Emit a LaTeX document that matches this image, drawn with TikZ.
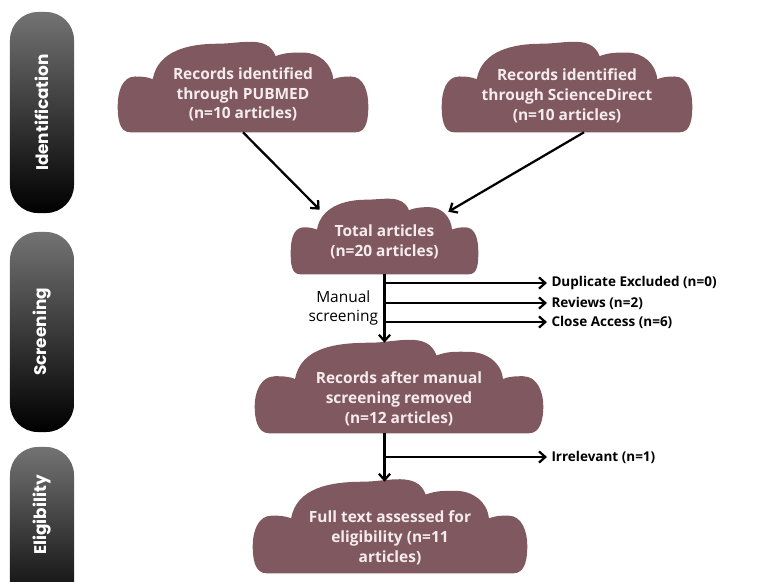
\documentclass[tikz,border=0pt]{standalone}
\usepackage{fontspec}
\setmainfont{Open Sans}
\newfontfamily\phasefont{Poppins}
\usetikzlibrary{arrows.meta, calc, backgrounds}
\definecolor{cloudmauve}{RGB}{127, 89, 95}
\definecolor{cloudtext}{RGB}{246, 236, 236}
\newcommand{\lowertext}[2]{\raisebox{-#1}[\height][\depth]{\begin{tabular}{@{}c@{}}#2\end{tabular}}}

\begin{document}
\begin{tikzpicture}[
    x=0.025cm, y=-0.025cm,
    cloud/.style={rectangle, inner sep=0pt, text=cloudtext, font=\fontsize{11}{14.2}\selectfont\bfseries},
    phase/.style={rectangle, rounded corners=0.7cm, minimum width=1.6cm, top color=black!55, bottom color=black, text=white, font=\phasefont\fontsize{12}{15}\selectfont\bfseries},
    outcome/.style={anchor=west, inner sep=3pt, font=\fontsize{9.6}{12}\selectfont\bfseries},
    flow/.style={line width=1.6pt, -{Straight Barb[length=4.5pt,width=8pt]}}
  ]
  \clip (0,0) rectangle (758,581);

  % Phase bars
  \node[phase, minimum height=5.025cm] (identification) at (42,112.5) {\rotatebox{90}{Identification}};
  \node[phase, minimum height=5cm] (screening) at (42,332) {\rotatebox{90}{Screening}};
  \node[phase, minimum height=4.325cm] (eligibility) at (42,533.5) {\rotatebox{90}{\hspace*{0.925cm}Eligibility}};

  % Clouds
  \node[cloud, minimum width=6.25cm, minimum height=2.2cm] (pubmed) at (243,88) {\lowertext{5pt}{Records identified\\through PUBMED\\(n=10 articles)}};
  \node[cloud, minimum width=6.25cm, minimum height=2.2cm] (sciencedirect) at (567,88) {\lowertext{6pt}{Records identified\\through ScienceDirect\\(n=10 articles)}};
  \node[cloud, minimum width=4.675cm, minimum height=1.85cm] (total) at (384.5,237) {\lowertext{4pt}{Total articles\\(n=20 articles)}};
  \node[cloud, minimum width=7.2cm, minimum height=2.25cm] (records) at (399,388) {\lowertext{8.5pt}{Records after manual\\screening removed\\(n=12 articles)}};
  \node[cloud, minimum width=6.85cm, minimum height=2.275cm] (fulltext) at (390,527.5) {\lowertext{7.5pt}{Full text assessed for\\eligibility (n=11\\articles)}};

  \begin{scope}[on background layer]
    \foreach \c in {pubmed, sciencedirect, total, records, fulltext}
      \fill[cloudmauve, x={($(\c.south east)-(\c.south west)$)}, y={($(\c.north west)-(\c.south west)$)}, shift={(\c.south west)}]
        (0.05,0) -- (0.95,0) to[out=0,in=-90] (1,0.3) to[out=90,in=0] (0.93,0.63)
        to[out=180,in=20] (0.86,0.6) to[out=95,in=0] (0.74,0.9) to[out=180,in=20] (0.63,0.86)
        to[out=110,in=0] (0.4,1) to[out=180,in=80] (0.14,0.6) to[out=160,in=0] (0.07,0.63)
        to[out=180,in=90] (0,0.3) to[out=-90,in=180] (0.05,0) -- cycle;
  \end{scope}

  % Exclusions
  \node[outcome] (duplicate) at (547,283) {Duplicate Excluded (n=0)};
  \node[outcome] (reviews) at (547,303) {Reviews (n=2)};
  \node[outcome] (closeaccess) at (547,322) {Close Access (n=6)};
  \node[outcome] (irrelevant) at (547,457) {Irrelevant (n=1)};
  \node[anchor=east, align=center, font=\fontsize{11}{13.5}\selectfont] (manual) at (383,308) {Manual\\screening};

  % Arrows
  \draw[flow] (pubmed.south) -- ([shift={(29,10)}]total.north west);
  \draw[flow] ([xshift=0.425cm]sciencedirect.south) -- ([shift={(-30,12)}]total.north east);
  \draw[flow] (total.south) -- (total.south |- records.north);
  \draw[flow] (total.south |- duplicate.west) -- (duplicate.west);
  \draw[flow] (total.south |- reviews.west) -- (reviews.west);
  \draw[flow] (total.south |- closeaccess.west) -- (closeaccess.west);
  \draw[flow] (total.south |- records.south) -- (total.south |- fulltext.north);
  \draw[flow] (total.south |- irrelevant.west) -- (irrelevant.west);
\end{tikzpicture}
\end{document}
